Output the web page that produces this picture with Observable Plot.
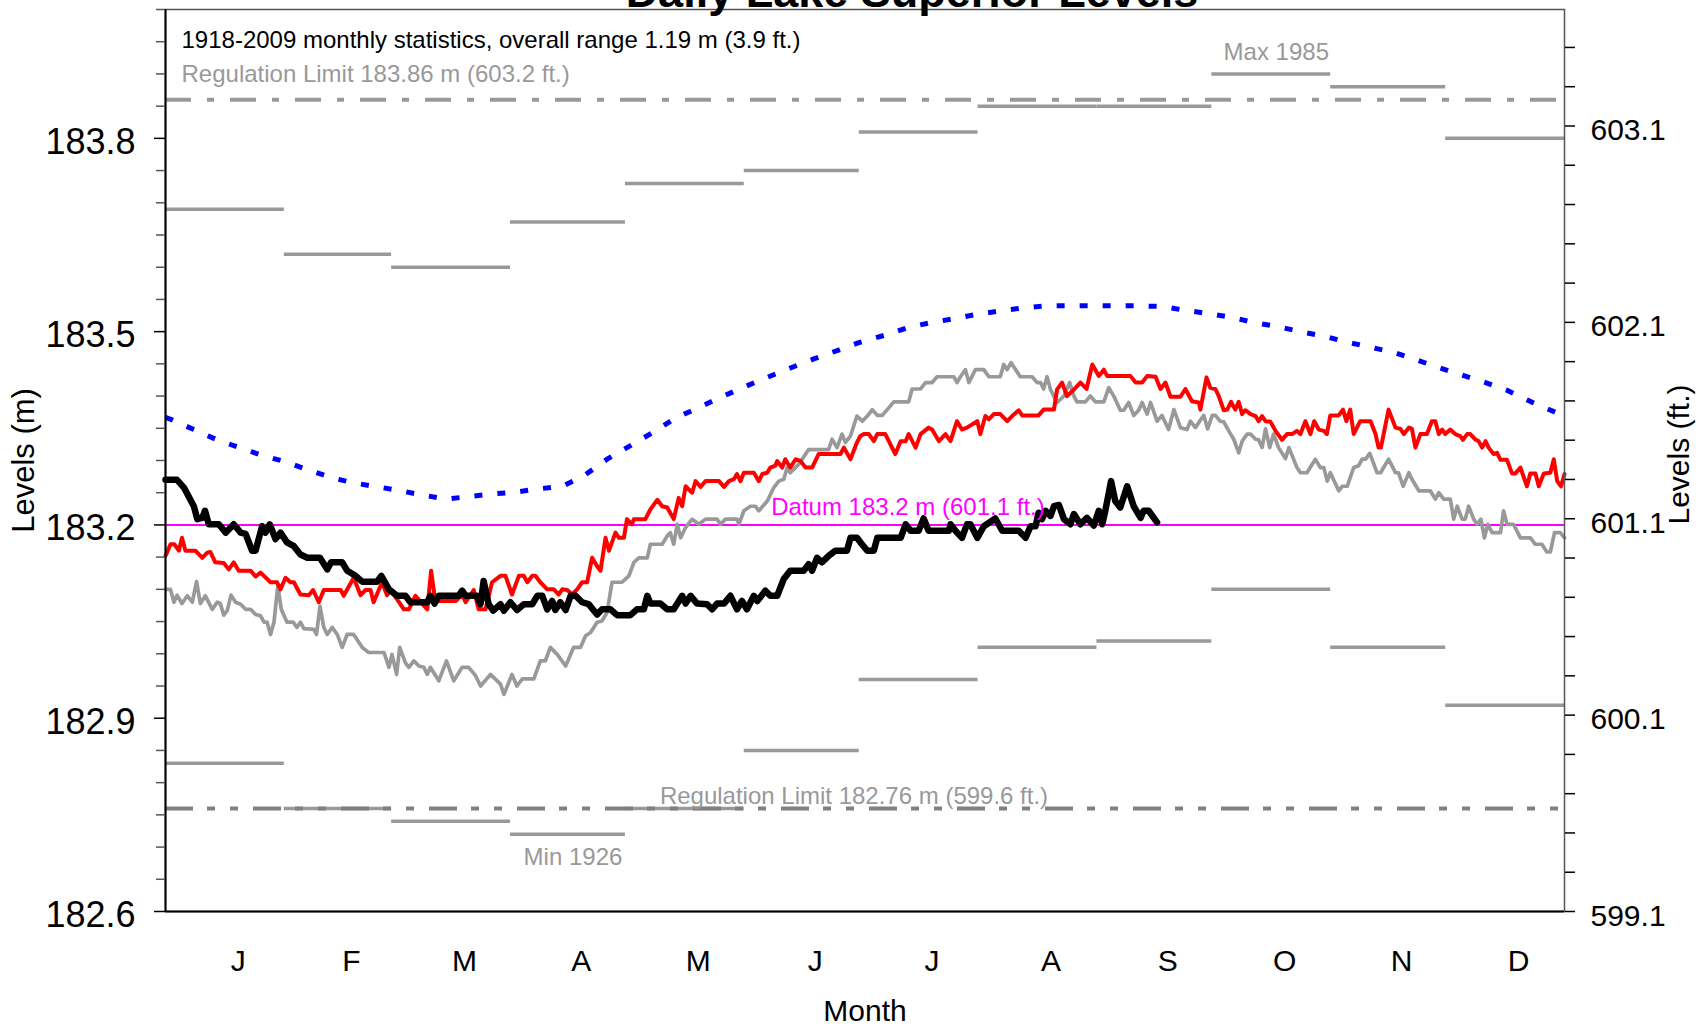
<!DOCTYPE html>
<html>
<head>
<meta charset="utf-8">
<script src="https://cdn.jsdelivr.net/npm/d3@7"></script>
<script src="https://cdn.jsdelivr.net/npm/@observablehq/plot@0.6"></script>
<style>
  html, body { margin: 0; padding: 0; background: #fff; }
  #chart svg { display: block; }
</style>
</head>
<body>
<div id="chart"></div>
<script>
// ---------- data ----------
const monthNames = ["J","F","M","A","M","J","J","A","S","O","N","D"];
const monthLengths = [31,28,31,30,31,30,31,31,30,31,30,31];
const monthlyMax = [183.69, 183.62, 183.60, 183.67, 183.73, 183.75, 183.81, 183.85, 183.85, 183.90, 183.88, 183.80];
const monthlyMin = [182.83, 182.76, 182.74, 182.72, 182.76, 182.85, 182.96, 183.01, 183.02, 183.10, 183.01, 182.92];
const maxLabel = "Max 1985";
const minLabel = "Min 1926";
const regulationHigh = 183.86;
const regulationLow = 182.76;
const datumLevel = 183.2;
const statsText = "1918-2009 monthly statistics, overall range 1.19 m (3.9 ft.)";
const regHighText = "Regulation Limit 183.86 m (603.2 ft.)";
const regLowText = "Regulation Limit 182.76 m (599.6 ft.)";
const datumText = "Datum 183.2 m (601.1 ft.)";
const titleText = "Daily Lake Superior Levels";

const metreMajorTicks = [182.6, 182.9, 183.2, 183.5, 183.8];
const metreMinorTicks = [182.65, 182.7, 182.75, 182.8, 182.85, 182.95, 183.0, 183.05, 183.1, 183.15,
  183.25, 183.3, 183.35, 183.4, 183.45, 183.55, 183.6, 183.65, 183.7, 183.75, 183.85, 183.9, 183.95, 184.0];
const feetMajorTicks = [599.1, 600.1, 601.1, 602.1, 603.1];
const feetMinorTicks = [599.3, 599.5, 599.7, 599.9, 600.3, 600.5, 600.7, 600.9, 601.3, 601.5, 601.7, 601.9,
  602.3, 602.5, 602.7, 602.9, 603.3, 603.5];

// long-term daily mean [day of year, level m]
const longTermMean = [[0,183.367],[1.3,183.364],[7.4,183.348],[13.5,183.332],[19.3,183.320],[25.2,183.308],
  [31.3,183.298],[37.4,183.285],[43.5,183.273],[49.3,183.265],[55.4,183.259],[61.3,183.253],[67.4,183.246],
  [73.3,183.240],[79.1,183.244],[85.2,183.248],[91.3,183.251],[97.4,183.256],[103.5,183.260],[109.1,183.276],
  [115.2,183.302],[121.3,183.323],[127,183.343],[133.1,183.366],[139.4,183.383],[145.2,183.399],[151.3,183.415],
  [157.4,183.430],[163.2,183.444],[169.3,183.458],[175.4,183.471],[180.9,183.483],[187.4,183.494],[193.5,183.506],
  [199.6,183.514],[205.7,183.520],[211.8,183.527],[217.7,183.532],[223.8,183.537],[229.8,183.540],[235.9,183.540],
  [241.8,183.540],[247.8,183.540],[253.9,183.540],[260,183.539],[266.1,183.533],[272.2,183.528],[278.3,183.522],
  [284.1,183.514],[290,183.508],[296.1,183.500],[302.2,183.493],[308.1,183.484],[314.2,183.476],[320.3,183.468],
  [326.4,183.456],[332.4,183.444],[338.5,183.432],[344.4,183.421],[350.4,183.408],[356.3,183.391],[362.6,183.375],
  [365,183.370]];

// grey daily series
const greyYear = [[0,183.100],[1.3,183.100],[2.2,183.080],[3,183.091],[4.3,183.078],[5.7,183.090],[7,183.080],
  [8.1,183.112],[9.1,183.078],[10.4,183.090],[12.2,183.069],[13.5,183.080],[14.3,183.078],[15.2,183.060],
  [16.1,183.067],[17.1,183.091],[18.3,183.080],[19.6,183.077],[20.9,183.069],[22.2,183.069],[23.5,183.061],
  [24.8,183.059],[25.7,183.049],[26.5,183.049],[27.4,183.030],[28.3,183.049],[29.3,183.105],[30.2,183.069],
  [31.7,183.049],[33.3,183.049],[34.3,183.041],[35.2,183.049],[36.1,183.039],[38.7,183.038],[39.4,183.030],
  [40.3,183.074],[41.3,183.041],[42.2,183.030],[43.5,183.041],[44.8,183.030],[46.1,183.010],[47.4,183.030],
  [49.1,183.030],[51.3,183.010],[53,183.002],[57,183.002],[58.3,182.979],[59.1,182.999],[60.3,182.968],
  [61.1,183.010],[62.6,182.986],[63.5,182.979],[64.8,182.989],[66.1,182.981],[67.4,182.979],[68.3,182.968],
  [69.1,182.979],[71.3,182.958],[73.3,182.989],[75.2,182.958],[77.4,182.979],[79.1,182.979],[80.9,182.966],
  [82.2,182.950],[84.8,182.968],[87.4,182.953],[88.3,182.937],[90.4,182.968],[91.7,182.950],[93.1,182.961],
  [96.1,182.961],[97.8,182.989],[99.1,182.989],[100.4,183.010],[102.2,182.999],[104.4,182.981],[106.5,183.010],
  [108.3,183.010],[109.6,183.028],[110.9,183.033],[112.6,183.049],[113.9,183.051],[115.2,183.064],[116.5,183.111],
  [119.1,183.111],[120.9,183.121],[122.2,183.142],[123.5,183.149],[125.7,183.149],[126.5,183.170],[129.6,183.170],
  [130.9,183.183],[131.7,183.188],[132.6,183.170],[133.5,183.201],[134.4,183.180],[135.7,183.196],[137.4,183.209],
  [139.1,183.201],[140.9,183.209],[143.9,183.209],[144.8,183.201],[146.1,183.209],[149.1,183.209],[149.6,183.201],
  [150.9,183.222],[152.6,183.229],[153.9,183.229],[154.8,183.222],[157,183.237],[158.7,183.258],[160,183.268],
  [161.3,183.271],[162.2,183.289],[163,183.281],[165.2,183.294],[167.8,183.317],[170.9,183.317],[173,183.317],
  [173.9,183.333],[175.2,183.320],[176.5,183.341],[177.4,183.328],[178.7,183.338],[180.4,183.369],[181.8,183.361],
  [183.1,183.369],[184.4,183.379],[185.7,183.370],[187,183.370],[188.3,183.379],[190,183.391],[193.9,183.391],
  [194.8,183.411],[197,183.411],[198.3,183.421],[200,183.421],[201.3,183.430],[205.7,183.430],[206.5,183.421],
  [207.4,183.430],[208.7,183.441],[209.6,183.421],[211.3,183.441],[213.5,183.441],[214.8,183.430],[217.8,183.430],
  [218.7,183.449],[219.6,183.441],[220.6,183.452],[223,183.430],[226.1,183.430],[227.4,183.421],[228.3,183.421],
  [229.1,183.411],[230,183.430],[230.9,183.410],[232.6,183.390],[234.4,183.400],[235.9,183.421],[237,183.400],
  [237.8,183.391],[240,183.391],[241.3,183.400],[242.6,183.391],[244.8,183.391],[246.1,183.413],[247.4,183.400],
  [249.1,183.378],[250,183.378],[251.3,183.390],[252.6,183.370],[253.9,183.378],[254.8,183.390],[256.1,183.372],
  [257,183.390],[258.7,183.361],[260,183.370],[261.7,183.348],[263.1,183.379],[264.8,183.351],[266.5,183.348],
  [267.4,183.361],[268.7,183.351],[269.8,183.361],[270.9,183.370],[271.9,183.349],[273.1,183.370],[273.9,183.370],
  [275.2,183.361],[276.1,183.360],[277.4,183.346],[278.7,183.333],[280,183.312],[280.9,183.330],[282.2,183.341],
  [283.1,183.341],[284.4,183.333],[285.2,183.332],[286.1,183.320],[287,183.349],[288.1,183.320],[289.1,183.341],
  [290.4,183.320],[292.2,183.303],[293.1,183.320],[295.2,183.289],[296.1,183.281],[297.8,183.281],[300,183.302],
  [301.3,183.289],[302.2,183.289],[303.1,183.268],[303.9,183.281],[306.1,183.253],[307,183.260],[308.3,183.260],
  [310,183.289],[311.3,183.292],[312.2,183.302],[313.1,183.302],[314.2,183.311],[316.1,183.281],[317,183.281],
  [319.1,183.302],[320.9,183.281],[321.7,183.281],[322.9,183.260],[324.4,183.281],[325.2,183.271],[327,183.253],
  [330,183.253],[331.3,183.240],[332.2,183.250],[333.5,183.240],[335.2,183.240],[336.1,183.209],[337,183.229],
  [338.3,183.209],[339.1,183.209],[340,183.229],[341.3,183.209],[342.2,183.201],[343.2,183.209],[344.1,183.180],
  [345,183.201],[346.1,183.188],[348.3,183.188],[349.1,183.222],[350,183.201],[351.7,183.201],[353.5,183.180],
  [356.1,183.180],[357.4,183.170],[359.1,183.170],[360.4,183.158],[361.3,183.158],[362.4,183.188],[363.9,183.188],
  [365,183.180]];

// red daily series
const redYear = [[0,183.152],[1.3,183.170],[2.3,183.170],[3.5,183.160],[4.3,183.180],[5.2,183.160],[7.8,183.160],
  [9.6,183.149],[10.9,183.157],[11.7,183.158],[13,183.142],[15.2,183.141],[16.5,183.131],[17.8,183.142],
  [19.1,183.129],[22.2,183.129],[23.5,183.120],[24.8,183.126],[27.4,183.111],[29.1,183.111],[30,183.100],
  [31.3,183.118],[32.6,183.111],[33.5,183.111],[35.2,183.092],[37.4,183.091],[38.5,183.099],[40,183.080],
  [41.3,183.099],[45.7,183.099],[46.5,183.090],[49.1,183.118],[50.9,183.091],[52.2,183.099],[53.5,183.099],
  [54.3,183.080],[56.5,183.111],[57.8,183.091],[58.7,183.099],[59.6,183.092],[62.2,183.069],[63.5,183.069],
  [65.2,183.090],[66.5,183.081],[68.3,183.069],[69.3,183.129],[70.4,183.082],[75.7,183.082],[77.4,183.092],
  [78.3,183.080],[80.4,183.099],[81.7,183.069],[83.5,183.069],[85.2,183.111],[87.4,183.121],[88.7,183.121],
  [90.4,183.092],[92.2,183.121],[93.5,183.121],[94.4,183.111],[95.7,183.121],[96.5,183.121],[97.8,183.111],
  [99.6,183.100],[101.3,183.100],[102.6,183.092],[103.5,183.100],[104.8,183.099],[106.1,183.092],[107.4,183.100],
  [108.7,183.111],[110,183.111],[111.3,183.149],[112.6,183.136],[113.5,183.129],[114.8,183.180],[115.7,183.160],
  [117.4,183.188],[118.3,183.180],[119.6,183.180],[120.4,183.209],[121.7,183.201],[122.2,183.209],[125.2,183.209],
  [126.5,183.224],[128.3,183.239],[129.6,183.229],[130.9,183.227],[132.6,183.209],[133.9,183.242],[134.8,183.229],
  [135.7,183.260],[137.4,183.250],[138.3,183.268],[139.6,183.259],[140.9,183.268],[144.4,183.268],[145.7,183.259],
  [147,183.268],[148.3,183.271],[149.1,183.279],[150,183.268],[150.9,183.281],[153.5,183.281],[154.8,183.268],
  [155.7,183.279],[157,183.281],[157.8,183.289],[159.1,183.292],[159.6,183.299],[160.9,183.289],[161.7,183.302],
  [163,183.289],[164.4,183.302],[165.7,183.299],[167,183.289],[168.7,183.289],[170.4,183.310],[176.1,183.310],
  [177,183.320],[178.7,183.302],[180.4,183.328],[181.3,183.338],[182.2,183.341],[183.5,183.341],[184.8,183.330],
  [185.7,183.341],[187.8,183.341],[190.4,183.310],[191.8,183.330],[193.1,183.330],[193.9,183.341],[195.7,183.320],
  [197,183.341],[199.1,183.351],[200,183.348],[201.8,183.330],[203.5,183.341],[204.8,183.330],[206.5,183.361],
  [207.8,183.348],[209.1,183.351],[211.8,183.361],[212.6,183.341],[213.9,183.369],[214.8,183.364],[216.1,183.372],
  [217.8,183.372],[219.6,183.361],[220.9,183.369],[222.6,183.378],[223.5,183.370],[227.8,183.370],[229.1,183.379],
  [231.8,183.379],[232.6,183.410],[233.9,183.421],[235.2,183.400],[237,183.410],[238.7,183.421],[240.3,183.411],
  [241.8,183.449],[243.5,183.431],[244.8,183.441],[245.7,183.431],[251.8,183.431],[253.1,183.421],[254.8,183.421],
  [256.1,183.431],[258.3,183.430],[259.6,183.411],[260.9,183.421],[262.2,183.399],[264.8,183.399],[266.1,183.411],
  [267.8,183.392],[269.6,183.390],[270,183.379],[271.6,183.429],[272.6,183.413],[273.9,183.411],[274.8,183.400],
  [276.1,183.378],[277,183.379],[278,183.391],[279.1,183.379],[280,183.391],[280.9,183.372],[281.7,183.378],
  [283.1,183.372],[284.4,183.369],[285.2,183.361],[286.1,183.369],[287,183.361],[288.3,183.360],[289.6,183.346],
  [291.3,183.332],[292.6,183.341],[293.9,183.341],[295.2,183.346],[296.1,183.341],[297.4,183.361],[298.7,183.341],
  [299.7,183.361],[300.9,183.348],[302.2,183.346],[303,183.341],[303.9,183.370],[306.1,183.370],[307.2,183.379],
  [308.1,183.361],[309.1,183.379],[310,183.341],[311.7,183.361],[314.4,183.361],[315.7,183.341],[316.5,183.320],
  [317.1,183.320],[319.1,183.379],[320.9,183.351],[322.2,183.349],[323.1,183.341],[324.4,183.351],[325.2,183.349],
  [326.1,183.320],[327.4,183.341],[329.1,183.341],[330.4,183.361],[331.3,183.361],[332.2,183.341],[333.1,183.348],
  [333.9,183.341],[335.2,183.348],[336.5,183.341],[337.8,183.338],[338.5,183.332],[339.6,183.341],[340.4,183.341],
  [341.7,183.333],[342.6,183.330],[343.5,183.320],[344.4,183.330],[345.2,183.320],[346.5,183.310],[347.4,183.312],
  [348.3,183.301],[350,183.301],[351.3,183.280],[352.2,183.280],[353.5,183.289],[355.2,183.260],[356.1,183.280],
  [357.4,183.280],[358.3,183.260],[359.6,183.280],[361.3,183.281],[362.2,183.302],[363.1,183.268],[364.1,183.260],
  [365,183.279]];

// current year (2009) to date
const currentYear = [[0,183.270],[3,183.270],[4.8,183.258],[7.4,183.229],[8.3,183.209],[9.6,183.211],[10.3,183.222],
  [11.3,183.201],[13.9,183.201],[15.7,183.188],[17.8,183.201],[19.6,183.188],[20.9,183.186],[22.6,183.160],
  [23.5,183.160],[25.2,183.198],[26.1,183.188],[27.2,183.201],[28.7,183.178],[30,183.188],[31.7,183.173],
  [33.5,183.167],[35.2,183.154],[37,183.149],[40.3,183.149],[42.2,183.131],[43.2,183.142],[46.1,183.142],
  [47.4,183.129],[49.6,183.121],[51.3,183.112],[55.2,183.112],[56.3,183.121],[58.3,183.100],[60.4,183.090],
  [62.6,183.090],[63.9,183.080],[68.3,183.080],[69.1,183.090],[70.2,183.078],[71.3,183.090],[76.5,183.090],
  [77.4,183.098],[78.3,183.090],[81.3,183.090],[82.2,183.077],[83,183.113],[84.3,183.077],[85.5,183.067],
  [87.4,183.077],[88.3,183.067],[90,183.080],[91.7,183.068],[93.5,183.077],[95.7,183.077],[97,183.090],
  [98.3,183.090],[99.6,183.069],[100.9,183.082],[101.7,183.068],[103,183.080],[104.4,183.068],[105.7,183.090],
  [107,183.090],[108.7,183.080],[110.4,183.077],[112.6,183.061],[113.9,183.069],[116.1,183.069],[117.8,183.060],
  [121.3,183.060],[123,183.069],[124.8,183.069],[125.7,183.090],[126.5,183.078],[129.1,183.078],[130.9,183.069],
  [132.6,183.069],[134.8,183.090],[135.7,183.078],[137,183.090],[138.7,183.078],[141.3,183.077],[142.6,183.069],
  [143.9,183.078],[145.7,183.078],[147.4,183.090],[149.1,183.069],[150.4,183.082],[151.7,183.069],[153.5,183.090],
  [154.4,183.082],[156.5,183.098],[157.8,183.090],[159.6,183.090],[161.3,183.116],[163,183.129],[166.5,183.129],
  [167.8,183.139],[168.7,183.129],[170,183.149],[171.3,183.142],[173,183.152],[174.8,183.160],[177.8,183.160],
  [178.7,183.180],[180.4,183.180],[181.3,183.173],[183.1,183.160],[184.8,183.160],[185.7,183.180],[191.8,183.180],
  [193.1,183.201],[194.4,183.191],[196.5,183.191],[197.8,183.210],[199.1,183.191],[204.4,183.191],[204.8,183.201],
  [206.1,183.191],[207.8,183.180],[209.1,183.201],[210,183.201],[211.8,183.180],[213.5,183.198],[216.5,183.210],
  [218.3,183.191],[222.6,183.191],[224.4,183.180],[225.7,183.198],[227,183.198],[227.8,183.219],[228.7,183.209],
  [229.6,183.222],[230.9,183.214],[231.8,183.229],[233.1,183.231],[234.4,183.209],[236.1,183.201],[237,183.217],
  [238.7,183.201],[240.4,183.211],[242.2,183.199],[243.5,183.222],[244.4,183.201],[245.2,183.222],[246.7,183.268],
  [247.8,183.237],[249.1,183.227],[250.9,183.260],[252.6,183.229],[254.4,183.211],[255.2,183.222],[256.5,183.222],
  [258.7,183.204]];

// ---------- derived tables ----------
const monthStarts = monthLengths.map((_, i) => d3.sum(monthLengths.slice(0, i)));
const months = monthNames.map((name, i) => ({
  name,
  start: monthStarts[i],
  end: monthStarts[i] + monthLengths[i],
  mid: monthStarts[i] + monthLengths[i] / 2,
  max: monthlyMax[i],
  min: monthlyMin[i]
}));
const maxMonth = months[d3.maxIndex(monthlyMax)];
const minMonth = months[d3.minIndex(monthlyMin)];
const baseMetres = 182.6, baseFeet = 599.1, metresPerFoot = 0.3048;
const feetToMetres = ft => baseMetres + (ft - baseFeet) * metresPerFoot;
const metresToFeet = m => baseFeet + (m - baseMetres) / metresPerFoot;
const rows = arr => arr.map(([day, level]) => ({day, level}));

const FONT = "'Liberation Sans', Arial, Helvetica, sans-serif";
const SMALL = 24;

const chart = Plot.plot({
  width: 1701,
  height: 1026,
  marginLeft: 165,
  marginRight: 137,
  marginTop: 9,
  marginBottom: 115,
  style: {fontFamily: FONT, background: "white", color: "black", overflow: "visible"},
  x: {domain: [0, 365], axis: null},
  y: {domain: [182.6, 184.0]},
  marks: [
    // monthly statistics
    Plot.ruleY(months, {y: "max", x1: "start", x2: "end", stroke: "#999999", strokeWidth: 3.5}),
    Plot.ruleY(months, {y: "min", x1: "start", x2: "end", stroke: "#999999", strokeWidth: 3.5}),
    // regulation limits and datum
    Plot.ruleY([regulationHigh], {stroke: "#999999", strokeWidth: 4, strokeDasharray: "26,16,7,16"}),
    Plot.ruleY([regulationLow], {stroke: "#808080", strokeWidth: 4, strokeDasharray: "28,14,8,15,8,15"}),
    Plot.ruleY([datumLevel], {stroke: "#ff00ff", strokeWidth: 2}),
    // series
    Plot.line(rows(longTermMean), {x: "day", y: "level", stroke: "#0000ff", strokeWidth: 5, strokeDasharray: "8,15", strokeLinecap: "butt"}),
    Plot.line(rows(greyYear), {x: "day", y: "level", stroke: "#999999", strokeWidth: 3.7}),
    Plot.line(rows(redYear), {x: "day", y: "level", stroke: "#ff0000", strokeWidth: 4}),
    Plot.line(rows(currentYear), {x: "day", y: "level", stroke: "#000000", strokeWidth: 6.5}),
    // frame
    Plot.frame({stroke: "#555555", strokeWidth: 1.5}),
    Plot.ruleX([0], {stroke: "black", strokeWidth: 2}),
    Plot.ruleY([182.6], {stroke: "black", strokeWidth: 2}),
    // left axis (metres)
    Plot.axisY({anchor: "left", ticks: metreMinorTicks, tickSize: 9, stroke: "#555555", strokeWidth: 1.5, tickFormat: () => "", label: null}),
    Plot.axisY({anchor: "left", ticks: metreMajorTicks, tickSize: 11, stroke: "black", strokeWidth: 1.5, tickFormat: () => "", label: null}),
    Plot.axisY({anchor: "left", ticks: metreMajorTicks, tickSize: 0, tickPadding: 30, fontSize: 36, dy: 4, tickFormat: d => d.toFixed(1), label: null}),
    // right axis (feet)
    Plot.axisY({anchor: "right", ticks: feetMinorTicks.concat(feetMajorTicks).map(feetToMetres), tickSize: 10, stroke: "black", strokeWidth: 1.5, tickFormat: () => "", label: null}),
    Plot.axisY({anchor: "right", ticks: feetMajorTicks.map(feetToMetres), tickSize: 0, tickPadding: 26, fontSize: 30, dy: 4.5, tickFormat: m => metresToFeet(m).toFixed(1), label: null}),
    // month labels
    Plot.text(months, {x: d => d.mid + 3.5, text: "name", frameAnchor: "bottom", dy: 59, lineAnchor: "bottom", fontSize: 30}),
    Plot.text(["Month"], {text: d => d, frameAnchor: "bottom", dy: 109, lineAnchor: "bottom", fontSize: 30}),
    Plot.text(["Levels (m)"], {text: d => d, frameAnchor: "left", textAnchor: "middle", lineAnchor: "middle", dx: -141, rotate: -90, fontSize: 31}),
    Plot.text(["Levels (ft.)"], {text: d => d, frameAnchor: "right", textAnchor: "middle", lineAnchor: "middle", dx: 115, dy: -6, rotate: -90, fontSize: 30}),
    // annotations
    Plot.text([statsText], {text: d => d, frameAnchor: "top-left", dx: 16, dy: 38, lineAnchor: "bottom", textAnchor: "start", fontSize: SMALL, fill: "black"}),
    Plot.text([regulationHigh], {y: d => d, text: () => regHighText, frameAnchor: "left", dx: 16, dy: -18, lineAnchor: "bottom", textAnchor: "start", fontSize: SMALL, fill: "#999999"}),
    Plot.text([regulationLow], {y: d => d, text: () => regLowText, frameAnchor: "middle", dx: -11, dy: -4, lineAnchor: "bottom", fontSize: SMALL, fill: "#999999"}),
    Plot.text([datumLevel], {y: d => d, text: () => datumText, frameAnchor: "middle", dx: 43, dy: -10, lineAnchor: "bottom", fontSize: SMALL, fill: "#ff00ff"}),
    Plot.text([maxMonth], {x: "mid", y: "max", text: () => maxLabel, dx: 5, dy: -14, lineAnchor: "bottom", fontSize: SMALL, fill: "#999999"}),
    Plot.text([minMonth], {x: "mid", y: "min", text: () => minLabel, dx: 5, dy: 31, lineAnchor: "bottom", fontSize: SMALL, fill: "#999999"}),
    // title (partly above the page, as in the reference)
    Plot.text([titleText], {text: d => d, frameAnchor: "top", dx: 47, dy: -3, lineAnchor: "bottom", fontSize: 45, fontWeight: "bold"})
  ]
});

document.getElementById("chart").append(chart);
</script>
</body>
</html>
